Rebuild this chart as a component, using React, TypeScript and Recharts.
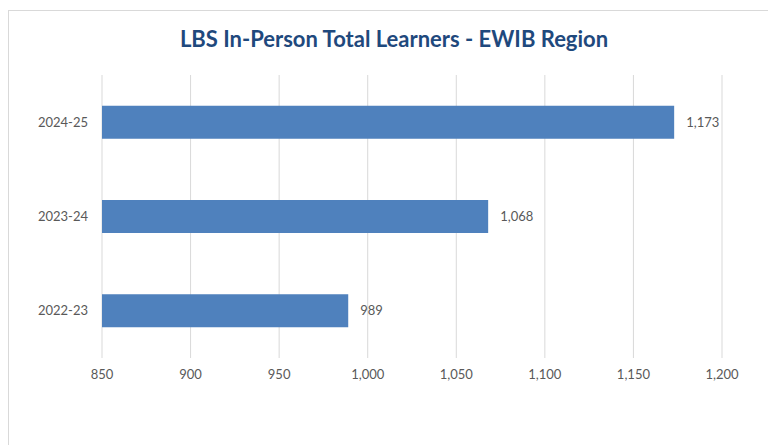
import { BarChart, Bar, XAxis, YAxis, CartesianGrid, LabelList } from 'recharts';

const years = ['2024-25', '2023-24', '2022-23'];
const learners = [1173, 1068, 989];
const xTicks = [850, 900, 950, 1000, 1050, 1100, 1150, 1200];

const data = years.map((year, i) => ({ year, learners: learners[i] }));

const font = 'Lato, "Open Sans", sans-serif';
const fmt = (v: number) => v.toLocaleString('en-US');

export default function App() {
  return (
    <div
      style={{
        position: 'absolute',
        left: 0,
        top: 0,
        width: 768,
        height: 445,
        overflow: 'hidden',
        background: '#fff',
        fontFamily: font,
      }}
    >
      <div
        style={{
          position: 'absolute',
          left: 8,
          top: 10,
          width: 820,
          height: 500,
          border: '1px solid #d9d9d9',
        }}
      />
      <div
        style={{
          position: 'absolute',
          left: 0,
          top: 25,
          width: 788,
          textAlign: 'center',
          fontSize: 22,
          fontWeight: 700,
          color: '#1f497d',
        }}
      >
        LBS In-Person Total Learners - EWIB Region
      </div>
      <div style={{ position: 'absolute', left: 0, top: 0 }}>
        <BarChart
          width={768}
          height={445}
          data={data}
          layout="vertical"
          margin={{ top: 75, right: 46, bottom: 57, left: 0 }}
          barCategoryGap="32.5%"
        >
          <CartesianGrid horizontal={false} stroke="#d9d9d9" />
          <XAxis
            type="number"
            domain={[850, 1200]}
            ticks={xTicks}
            allowDataOverflow
            axisLine={false}
            tickLine={false}
            tickSize={0}
            tickMargin={12}
            height={30}
            tickFormatter={fmt}
            tick={{ fill: '#595959', fontSize: 13, fontFamily: font }}
          />
          <YAxis
            type="category"
            dataKey="year"
            width={102}
            axisLine={false}
            tickLine={false}
            tickSize={0}
            tickMargin={14}
            tick={{ fill: '#595959', fontSize: 13, fontFamily: font }}
          />
          <Bar dataKey="learners" fill="#4f81bd" isAnimationActive={false}>
            <LabelList
              dataKey="learners"
              position="right"
              offset={12}
              formatter={(v: any) => fmt(Number(v))}
              style={{ fill: '#595959', fontSize: 13, fontFamily: font }}
            />
          </Bar>
        </BarChart>
      </div>
    </div>
  );
}
